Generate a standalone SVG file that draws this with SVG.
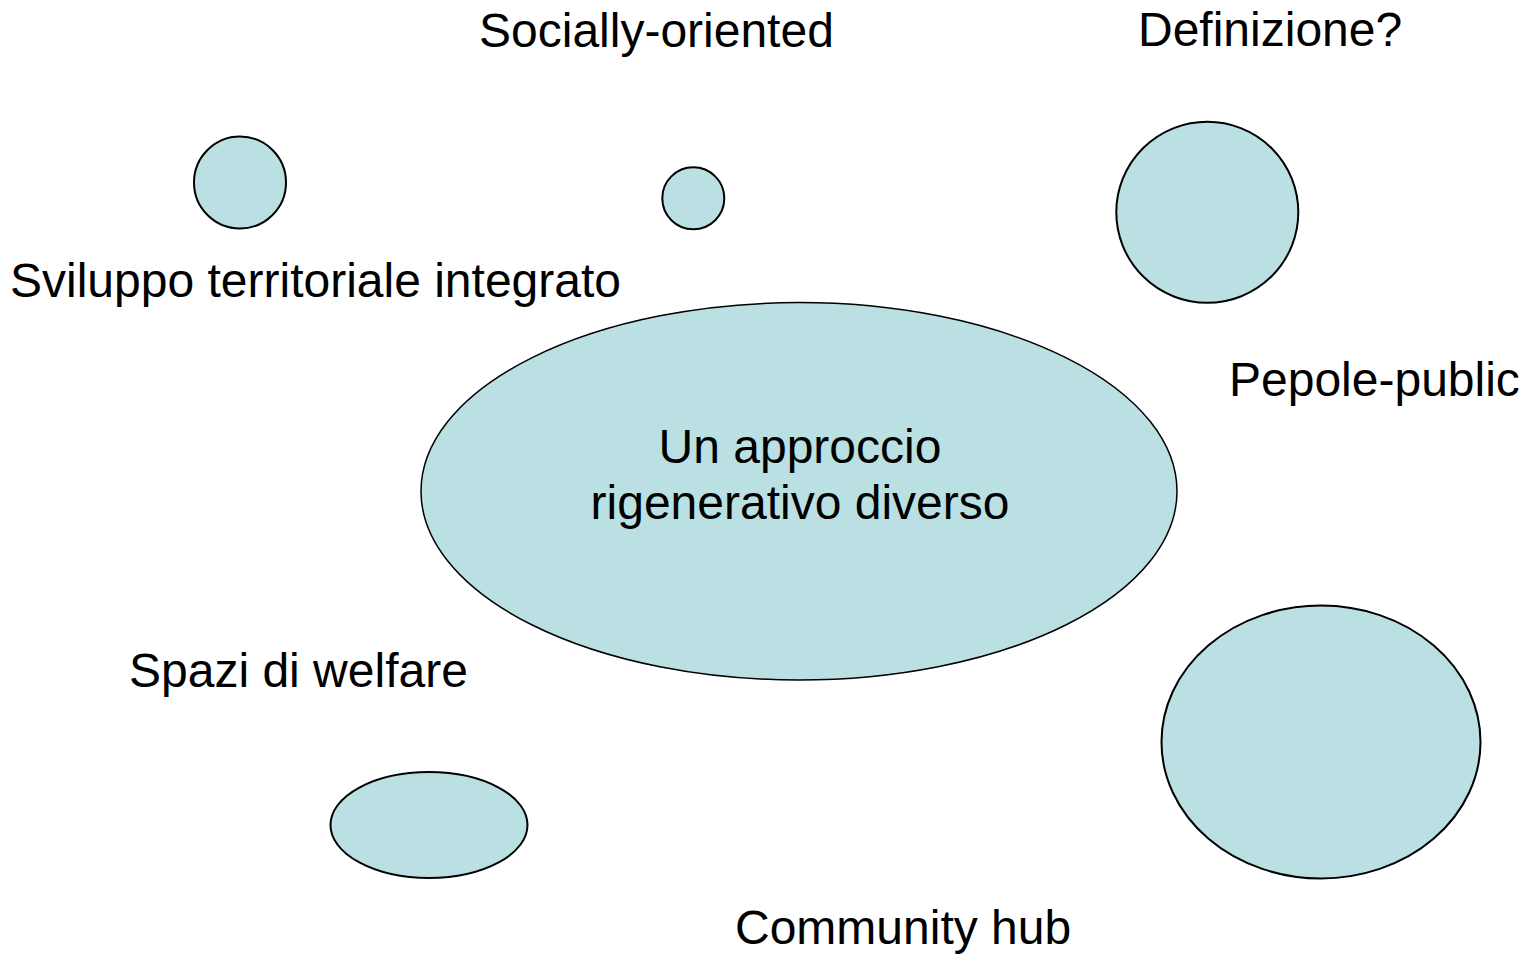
<svg xmlns="http://www.w3.org/2000/svg" width="1537" height="959" viewBox="0 0 1537 959">
<style>
.n{fill:#BAE0E3;stroke:#000;stroke-width:2}
.t{font-family:"Liberation Sans",Arial,sans-serif;font-size:48px;fill:#000}
.c{text-anchor:middle}
</style>
<rect width="1537" height="959" fill="#fff"/>
<g id="connectors"/>
<g id="node-small1"><circle class="n" cx="240" cy="182.5" r="46"/></g>
<g id="node-small2"><circle class="n" cx="693.3" cy="198.3" r="31"/></g>
<g id="node-right-top"><ellipse class="n" cx="1207.3" cy="212.3" rx="91" ry="90.5"/></g>
<g id="node-center"><ellipse class="n" cx="799" cy="491.3" rx="378" ry="188.7" style="stroke-width:1.5"/>
<text class="t c" x="800" y="463">Un approccio</text>
<text class="t c" x="800" y="519">rigenerativo diverso</text></g>
<g id="node-bottom-left"><ellipse class="n" cx="429" cy="825" rx="98.5" ry="53"/></g>
<g id="node-bottom-right"><ellipse class="n" cx="1321" cy="742" rx="159.5" ry="136.5"/></g>
<g id="labels">
<text class="t" x="479" y="47">Socially-oriented</text>
<text class="t" x="1138" y="46">Definizione?</text>
<text class="t" x="10" y="297">Sviluppo territoriale integrato</text>
<text class="t" x="1229" y="396">Pepole-public</text>
<text class="t" x="129" y="687">Spazi di welfare</text>
<text class="t" x="735" y="944">Community hub</text>
</g>
</svg>
